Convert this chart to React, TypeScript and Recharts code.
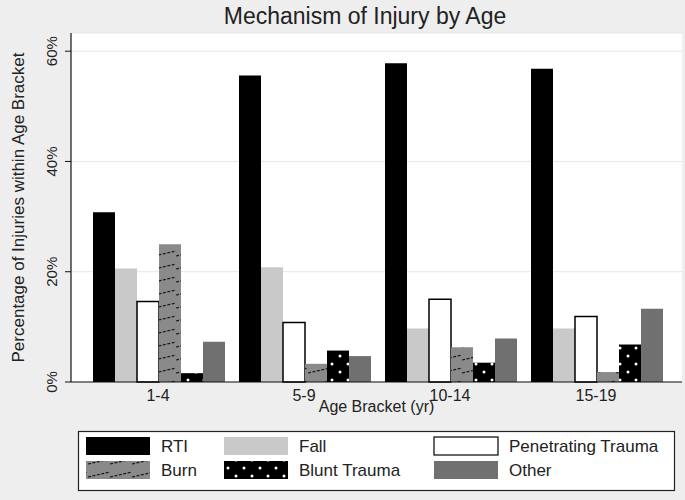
import { BarChart, Bar, XAxis, YAxis, CartesianGrid, Label } from 'recharts';

const AGE_BRACKETS = ['1-4', '5-9', '10-14', '15-19'];
const RTI = [30.8, 55.6, 57.8, 56.8];
const FALL = [20.6, 20.8, 9.7, 9.7];
const PENETRATING = [14.6, 10.8, 15.0, 11.9];
const BURN = [25.0, 3.3, 6.3, 1.8];
const BLUNT = [1.6, 5.7, 3.5, 6.8];
const OTHER = [7.3, 4.7, 7.9, 13.3];
const Y_TICKS = [0, 20, 40, 60];

const SERIES = [
  { key: 'rti', name: 'RTI', fill: '#000000', stroke: 'none' },
  { key: 'fall', name: 'Fall', fill: '#c9c9c9', stroke: 'none' },
  { key: 'pen', name: 'Penetrating Trauma', fill: '#ffffff', stroke: '#000000' },
  { key: 'burn', name: 'Burn', fill: 'url(#burnPat)', stroke: 'none' },
  { key: 'blunt', name: 'Blunt Trauma', fill: 'url(#bluntPat)', stroke: 'none' },
  { key: 'other', name: 'Other', fill: '#707070', stroke: 'none' },
];

const data = AGE_BRACKETS.map((age, i) => ({
  age,
  rti: RTI[i],
  fall: FALL[i],
  pen: PENETRATING[i],
  burn: BURN[i],
  blunt: BLUNT[i],
  other: OTHER[i],
}));

const FONT = '"Liberation Sans", Arial, sans-serif';
const BG = '#eeeeee';

function Patterns({ prefix = '' }: { prefix?: string }) {
  return (
    <defs>
      <pattern id={prefix + 'burnPat'} patternUnits="userSpaceOnUse" width={22} height={13}>
        <rect width={22} height={13} fill="#8a8a8a" />
        <line x1={0} y1={9} x2={22} y2={4} stroke="#111" strokeWidth={1.2} strokeDasharray="3 1.5" />
      </pattern>
      <pattern id={prefix + 'bluntPat'} patternUnits="userSpaceOnUse" width={16} height={16}>
        <rect width={16} height={16} fill="#000" />
        <circle cx={4} cy={4} r={1.5} fill="#fff" />
        <circle cx={12} cy={12} r={1.5} fill="#fff" />
      </pattern>
    </defs>
  );
}

const YTick = ({ x, y, payload }: any) => (
  <text
    x={x - 6}
    y={y}
    transform={`rotate(-90, ${x - 6}, ${y})`}
    textAnchor="middle"
    fontSize={15}
    fontFamily={FONT}
    fill="#222"
  >
    {payload.value}%
  </text>
);

function LegendBox() {
  const col = [86, 224, 434];
  const rows = [437, 461];
  const items = SERIES.map((s, i) => ({ ...s, cx: col[i % 3], cy: rows[Math.floor(i / 3)] }));
  return (
    <svg
      width={685}
      height={500}
      style={{ position: 'absolute', left: 0, top: 0, pointerEvents: 'none' }}
    >
      <Patterns prefix="lg-" />
      <rect x={78.5} y={431.5} width={596} height={59} fill="#fff" stroke="#222" strokeWidth={1.2} />
      {items.map(it => (
        <g key={it.key}>
          <rect
            x={it.cx}
            y={it.cy}
            width={64}
            height={18}
            fill={it.fill.replace('url(#', 'url(#lg-')}
            stroke={it.stroke === 'none' ? 'none' : '#000'}
            strokeWidth={1.2}
          />
          <text x={it.cx + 75} y={it.cy + 15} fontSize={17} fontFamily={FONT} fill="#222">
            {it.name}
          </text>
        </g>
      ))}
    </svg>
  );
}

export default function App() {
  return (
    <div style={{ position: 'absolute', left: 0, top: 0, width: 685, height: 500, background: BG }}>
      <div
        style={{
          position: 'absolute',
          top: 3,
          left: 71,
          width: 588,
          textAlign: 'center',
          fontFamily: FONT,
          fontSize: 23,
          color: '#222',
        }}
      >
        Mechanism of Injury by Age
      </div>
      <BarChart
        width={685}
        height={500}
        data={data}
        margin={{ top: 33, right: 3, bottom: 88, left: 0 }}
        barCategoryGap={8}
        barGap={0}
      >
        <Patterns />
        <CartesianGrid vertical={false} stroke="#e6e6e6" fill="#ffffff" />
        <XAxis
          dataKey="age"
          height={30}
          padding={{ left: 14, right: 13 }}
          tickLine={false}
          axisLine={{ stroke: '#111', strokeWidth: 1.2 }}
          tick={{ fontSize: 16, fontFamily: FONT, fill: '#222' }}
        >
          <Label
            value="Age Bracket (yr)"
            position="insideBottom"
            offset={0}
            style={{ fontSize: 16, fontFamily: FONT, fill: '#222' }}
          />
        </XAxis>
        <YAxis
          width={71}
          domain={[0, 63.3]}
          ticks={Y_TICKS}
          tick={<YTick />}
          tickSize={6}
          axisLine={{ stroke: '#111', strokeWidth: 1.2 }}
          tickLine={{ stroke: '#111' }}
        >
          <Label
            value="Percentage of Injuries within Age Bracket"
            angle={-90}
            position="insideLeft"
            offset={18}
            style={{ textAnchor: 'middle', fontSize: 17, fontFamily: FONT, fill: '#222' }}
          />
        </YAxis>
        {SERIES.map(s => (
          <Bar
            key={s.key}
            dataKey={s.key}
            name={s.name}
            fill={s.fill}
            stroke={s.stroke}
            strokeWidth={s.stroke === 'none' ? 0 : 1.5}
            isAnimationActive={false}
          />
        ))}
      </BarChart>
      <LegendBox />
    </div>
  );
}
